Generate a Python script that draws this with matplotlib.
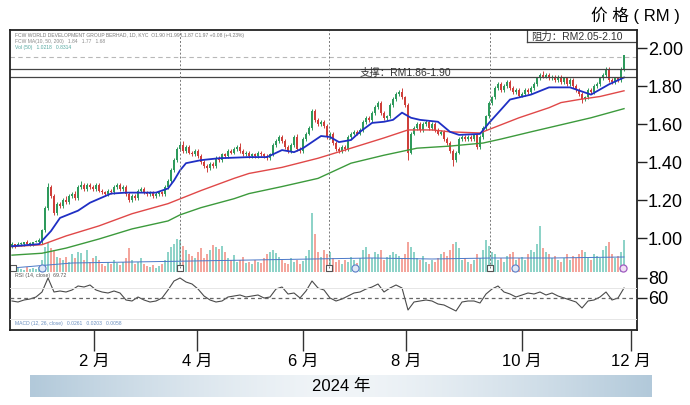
import numpy as np
import matplotlib.pyplot as plt
from matplotlib.colors import LinearSegmentedColormap

plt.rcParams['font.family'] = ['Liberation Sans', 'Noto Sans CJK SC', 'DejaVu Sans']

# daily candles (index 0 = first session shown)
opens = [0.96, 0.97, 0.96, 0.97, 0.97, 0.98, 0.97, 0.97, 0.98, 0.98,
         0.98, 1.04, 1.16, 1.27, 1.22, 1.13, 1.18, 1.17, 1.20, 1.19,
         1.22, 1.23, 1.21, 1.27, 1.28, 1.26, 1.28, 1.27, 1.26, 1.28,
         1.25, 1.24, 1.23, 1.25, 1.24, 1.27, 1.28, 1.26, 1.27, 1.23,
         1.20, 1.22, 1.21, 1.25, 1.26, 1.24, 1.23, 1.24, 1.22, 1.23,
         1.24, 1.23, 1.27, 1.30, 1.36, 1.41, 1.47, 1.49, 1.46, 1.48,
         1.45, 1.44, 1.46, 1.43, 1.40, 1.38, 1.37, 1.39, 1.38, 1.42,
         1.41, 1.44, 1.43, 1.46, 1.45, 1.47, 1.48, 1.46, 1.44, 1.45,
         1.43, 1.44, 1.43, 1.45, 1.44, 1.43, 1.42, 1.44, 1.49, 1.51,
         1.53, 1.51, 1.48, 1.46, 1.49, 1.53, 1.47, 1.46, 1.52, 1.55,
         1.58, 1.67, 1.62, 1.60, 1.61, 1.59, 1.53, 1.55, 1.50, 1.47,
         1.46, 1.48, 1.47, 1.53, 1.55, 1.56, 1.55, 1.57, 1.61, 1.63,
         1.62, 1.66, 1.69, 1.71, 1.66, 1.63, 1.64, 1.70, 1.73, 1.76,
         1.77, 1.74, 1.70, 1.45, 1.55, 1.58, 1.60, 1.57, 1.60, 1.61,
         1.58, 1.60, 1.57, 1.55, 1.56, 1.52, 1.50, 1.46, 1.41, 1.45,
         1.52, 1.53, 1.52, 1.53, 1.52, 1.54, 1.48, 1.53, 1.58, 1.64,
         1.71, 1.74, 1.79, 1.81, 1.78, 1.80, 1.82, 1.79, 1.77, 1.78,
         1.75, 1.76, 1.78, 1.77, 1.79, 1.81, 1.84, 1.86, 1.85, 1.86,
         1.84, 1.85, 1.83, 1.85, 1.82, 1.84, 1.81, 1.83, 1.80, 1.78,
         1.76, 1.73, 1.74, 1.78, 1.77, 1.80, 1.81, 1.84, 1.86, 1.89,
         1.83, 1.82, 1.84, 1.83, 1.89]
closes = [0.97, 0.96, 0.97, 0.97, 0.98, 0.97, 0.97, 0.98, 0.98, 0.99,
          1.04, 1.16, 1.27, 1.22, 1.13, 1.18, 1.17, 1.20, 1.19, 1.22,
          1.23, 1.21, 1.27, 1.28, 1.26, 1.28, 1.27, 1.26, 1.28, 1.25,
          1.24, 1.23, 1.25, 1.24, 1.27, 1.28, 1.26, 1.27, 1.23, 1.20,
          1.22, 1.21, 1.25, 1.26, 1.24, 1.23, 1.24, 1.22, 1.23, 1.24,
          1.23, 1.27, 1.30, 1.36, 1.41, 1.47, 1.49, 1.46, 1.48, 1.45,
          1.44, 1.46, 1.43, 1.40, 1.38, 1.37, 1.39, 1.38, 1.42, 1.41,
          1.44, 1.43, 1.46, 1.45, 1.47, 1.48, 1.46, 1.44, 1.45, 1.43,
          1.44, 1.43, 1.45, 1.44, 1.43, 1.42, 1.44, 1.49, 1.51, 1.53,
          1.51, 1.48, 1.46, 1.49, 1.53, 1.47, 1.46, 1.52, 1.55, 1.58,
          1.67, 1.62, 1.60, 1.61, 1.59, 1.53, 1.55, 1.50, 1.47, 1.46,
          1.48, 1.47, 1.53, 1.55, 1.56, 1.55, 1.57, 1.61, 1.63, 1.62,
          1.66, 1.69, 1.71, 1.66, 1.63, 1.64, 1.70, 1.73, 1.76, 1.77,
          1.74, 1.70, 1.45, 1.55, 1.58, 1.60, 1.57, 1.60, 1.61, 1.58,
          1.60, 1.57, 1.55, 1.56, 1.52, 1.50, 1.46, 1.41, 1.45, 1.52,
          1.53, 1.52, 1.53, 1.52, 1.54, 1.48, 1.53, 1.58, 1.64, 1.71,
          1.74, 1.79, 1.81, 1.78, 1.80, 1.82, 1.79, 1.77, 1.78, 1.75,
          1.76, 1.78, 1.77, 1.79, 1.81, 1.84, 1.86, 1.85, 1.86, 1.84,
          1.85, 1.83, 1.85, 1.82, 1.84, 1.81, 1.83, 1.80, 1.78, 1.76,
          1.73, 1.74, 1.78, 1.77, 1.80, 1.81, 1.84, 1.86, 1.89, 1.83,
          1.82, 1.84, 1.83, 1.89, 1.965]
# wick lengths in sen
wick_up = [1, 0, 1, 1, 0, 1, 1, 0, 1, 1,
           1, 1, 2, 1, 1, 1, 1, 1, 2, 1,
           1, 2, 1, 2, 1, 1, 1, 1, 1, 1,
           1, 1, 1, 1, 1, 1, 1, 1, 1, 1,
           1, 1, 1, 1, 1, 1, 1, 1, 1, 1,
           1, 1, 1, 1, 1, 1, 2, 2, 1, 1,
           1, 1, 1, 1, 1, 1, 1, 1, 1, 1,
           1, 1, 1, 1, 1, 1, 2, 1, 1, 1,
           1, 1, 1, 1, 1, 1, 1, 1, 1, 1,
           1, 1, 1, 1, 1, 2, 1, 1, 1, 1,
           1, 1, 1, 1, 1, 1, 1, 1, 1, 1,
           1, 1, 1, 1, 1, 1, 1, 1, 1, 1,
           1, 1, 1, 1, 1, 1, 1, 1, 1, 1,
           2, 1, 1, 1, 1, 1, 1, 1, 1, 1,
           1, 1, 1, 1, 1, 1, 1, 1, 1, 1,
           1, 1, 1, 1, 1, 1, 1, 1, 1, 1,
           1, 1, 1, 1, 1, 1, 1, 1, 1, 1,
           1, 1, 1, 1, 1, 1, 1, 2, 1, 1,
           1, 1, 1, 1, 1, 1, 1, 1, 1, 1,
           1, 1, 1, 1, 1, 1, 1, 1, 1, 1,
           1, 1, 1, 1, 0]
wick_dn = [1, 1, 0, 1, 1, 0, 1, 1, 0, 1,
           1, 1, 1, 1, 1, 1, 1, 1, 1, 1,
           1, 1, 1, 1, 1, 1, 1, 1, 1, 1,
           1, 1, 1, 1, 1, 1, 1, 1, 1, 1,
           1, 1, 1, 1, 1, 1, 1, 1, 1, 1,
           1, 1, 1, 1, 1, 1, 1, 1, 1, 1,
           1, 1, 1, 1, 1, 2, 1, 1, 1, 1,
           1, 1, 1, 1, 1, 1, 1, 1, 1, 1,
           1, 1, 1, 1, 1, 1, 1, 1, 1, 1,
           1, 1, 1, 1, 1, 1, 1, 1, 1, 1,
           1, 1, 1, 1, 1, 1, 1, 1, 1, 1,
           1, 1, 1, 1, 1, 1, 1, 1, 1, 1,
           1, 1, 1, 1, 1, 1, 1, 1, 1, 1,
           1, 1, 4, 1, 1, 1, 1, 1, 1, 1,
           1, 1, 1, 1, 1, 1, 1, 3, 1, 1,
           1, 1, 1, 1, 1, 1, 1, 1, 1, 1,
           1, 1, 1, 1, 1, 1, 1, 1, 1, 1,
           1, 1, 1, 1, 1, 1, 1, 1, 1, 1,
           1, 1, 1, 1, 1, 1, 1, 1, 1, 1,
           2, 1, 1, 1, 1, 1, 1, 1, 1, 1,
           1, 1, 1, 1, 1]
volume = [3, 2, 4, 3, 2, 5, 3, 4, 3, 5,
          12, 25, 29, 24, 22, 15, 14, 12, 15, 10,
          18, 14, 20, 19, 12, 22, 10, 14, 16, 12,
          8, 6, 10, 8, 12, 9, 7, 10, 14, 24,
          12, 8, 10, 14, 8, 6, 5, 7, 4, 6,
          8, 12, 20, 25, 28, 33, 32, 26, 22, 18,
          16, 14, 20, 24, 14, 18, 22, 27, 25, 23,
          26, 20, 14, 12, 17, 10, 12, 15, 9, 10,
          8, 12, 10, 9, 14, 18, 20, 22, 19, 15,
          12, 9, 8, 14, 10, 12, 8, 11, 16, 22,
          59, 38, 20, 15, 22, 18, 20, 14, 10, 12,
          8, 12, 10, 15, 12, 9, 14, 22, 25, 18,
          14, 20, 18, 22, 12, 15, 17, 20, 18, 16,
          14, 18, 30, 25, 20, 14, 12, 16, 10, 8,
          12, 10, 14, 18, 20, 16, 22, 28, 30, 24,
          12, 14, 10, 8, 12, 18, 14, 22, 32, 26,
          20, 18, 12, 14, 10, 16, 18, 20, 12, 14,
          15, 12, 18, 22, 20, 28, 46, 24, 20, 18,
          14, 16, 12, 10, 14, 18, 12, 16, 14, 18,
          22, 20, 14, 12, 18, 16, 14, 22, 26, 30,
          18, 14, 16, 20, 32]

vol_ma_x = [0, 20, 40, 60, 80, 100, 120, 140, 160, 180, 204]
vol_ma = [4, 9, 10, 11, 12, 13, 14, 13, 14, 14, 15]

# moving averages (blue / red / green)
blue_x = [0, 9, 13, 16, 22, 26, 33, 38, 43, 48, 52, 54, 56, 58, 63, 69, 79, 85, 90, 94, 97,
          103, 106, 109, 113, 116, 120, 124, 127, 130, 133, 136, 142, 146, 149, 156, 159,
          163, 166, 173, 179, 186, 193, 199, 204]
blue_ma = [0.957, 0.968, 1.037, 1.106, 1.144, 1.186, 1.234, 1.239, 1.239, 1.239, 1.261,
           1.303, 1.356, 1.394, 1.410, 1.420, 1.426, 1.426, 1.463, 1.452, 1.473, 1.537,
           1.532, 1.505, 1.516, 1.559, 1.606, 1.612, 1.622, 1.660, 1.633, 1.622, 1.612,
           1.559, 1.543, 1.548, 1.606, 1.676, 1.729, 1.755, 1.793, 1.793, 1.755, 1.809, 1.845]
red_x = [0, 10, 18, 29, 40, 52, 63, 74, 79, 90, 102, 113, 124, 132, 140, 146, 156, 163,
         169, 179, 183, 189, 196, 204]
red_ma = [0.955, 0.965, 1.011, 1.064, 1.128, 1.181, 1.250, 1.314, 1.340, 1.372, 1.420,
          1.473, 1.527, 1.569, 1.569, 1.559, 1.553, 1.596, 1.633, 1.686, 1.713, 1.729,
          1.745, 1.775]
green_x = [0, 10, 18, 29, 40, 52, 56, 63, 74, 79, 90, 102, 113, 124, 135, 146, 157, 163,
           173, 183, 193, 204]
green_ma = [0.910, 0.920, 0.947, 0.995, 1.048, 1.090, 1.122, 1.160, 1.207, 1.234, 1.271,
            1.314, 1.394, 1.436, 1.473, 1.484, 1.500, 1.521, 1.559, 1.596, 1.633, 1.681]

# RSI(14), every second session
rsi_x = list(range(0, 205, 2))
rsi = [57, 56, 58, 59, 61, 66, 80, 66, 67, 66, 68, 72, 71, 73, 68, 66, 65, 67, 65, 58,
       57, 61, 58, 56, 57, 60, 68, 77, 80, 76, 74, 69, 62, 58, 56, 57, 61, 62, 63, 61,
       62, 63, 60, 61, 69, 71, 64, 65, 60, 67, 77, 70, 68, 60, 57, 59, 62, 65, 66, 69,
       71, 74, 66, 70, 73, 70, 48, 56, 57, 58, 57, 54, 53, 50, 47, 56, 57, 57, 55, 64,
       69, 72, 66, 64, 61, 63, 65, 64, 66, 63, 65, 62, 60, 58, 56, 50, 57, 58, 61, 66,
       58, 60, 70]

month_pos = [27.3, 61.7, 97.0, 131.3, 170.0, 206.3]
month_labels = ['2 月', '4 月', '6 月', '8 月', '10 月', '12 月']
price_ticks = [1.00, 1.20, 1.40, 1.60, 1.80, 2.00]
event_box_x = [0.3, 56.0, 105.7, 159.3]
event_dot_x = [10.0, 114.3, 167.7]

W, H = 690, 405
fig = plt.figure(figsize=(W / 100, H / 100), dpi=100)
box = [10 / W, 1 - 330 / H, 627 / W, 300 / H]
ax = fig.add_axes(box)
axv = ax.twinx()
axr = ax.twinx()
ax.set_zorder(1)
axv.set_zorder(0)
axr.set_zorder(2)
ax.patch.set_visible(False)

ax.set_xlim(-0.67, 208.33)
ax.set_ylim(0.516, 2.095)
axv.set_ylim(-58, 242)
axr.set_ylim(28, 328)

# volume
o = np.array(opens)
c = np.array(closes)
x = np.arange(len(o))
up = c >= o
axv.bar(x, volume, width=0.85, color=np.where(up, '#8ed3c8', '#f4a59c'), lw=0)
axv.plot(vol_ma_x, vol_ma, color='#4a78c8', lw=0.7)
axv.set_yticks([])
for s in axv.spines.values():
    s.set_visible(False)
axv.scatter(event_box_x, [4] * len(event_box_x), marker='s', s=22, facecolor='white',
            edgecolor='#555555', lw=0.8, zorder=5)
axv.scatter(event_dot_x, [4] * len(event_dot_x), marker='o', s=26, facecolor='#dfe8f6',
            edgecolor='#5a7ec8', lw=0.8, zorder=5)
axv.scatter([203.7], [4], marker='o', s=26, facecolor='#f0dff4', edgecolor='#a05ac0',
            lw=0.9, zorder=5)

# candles
hi = np.maximum(o, c) + np.array(wick_up) / 100
lo = np.minimum(o, c) - np.array(wick_dn) / 100
col = np.where(up, '#2e9a5c', '#cf3f3a')
ax.vlines(x, lo, hi, colors=col, lw=0.7)
ax.bar(x, np.maximum(np.abs(c - o), 0.004), bottom=np.minimum(o, c), width=0.75,
       color=col, lw=0)

ax.plot(green_x, green_ma, color='#3c9a3c', lw=1.0)
ax.plot(red_x, red_ma, color='#e04848', lw=1.0)
ax.plot(blue_x, blue_ma, color='#1f2fc4', lw=1.3)

# reference lines
ax.axhline(1.953, color='#b8b8b8', lw=0.8, ls=(0, (4, 3)))
ax.axhline(1.892, color='#444444', lw=0.9)
ax.axhline(1.850, color='#444444', lw=0.9)
ax.plot([171.5, 208.33], [2.032, 2.032], color='#444444', lw=0.9)
ax.plot([171.5, 171.5], [2.032, 2.095], color='#444444', lw=0.9)
ax.vlines([56.0, 105.7, 159.3], 0.84, 2.095, colors='#777777', lw=0.7, linestyles=(0, (2, 2)))
ax.text(173, 2.060, '阻力：RM2.05-2.10', fontsize=7.5, color='#333333', va='center')
ax.text(116, 1.871, '支撑：RM1.86-1.90', fontsize=7.5, color='#333333', va='center')

ax.text(0.008, (330 - 35) / 300, 'FCW WORLD DEVELOPMENT GROUP BERHAD, 1D, KYC  O1.90 H1.99 L1.87 C1.97 +0.08 (+4.23%)',
        transform=ax.transAxes, fontsize=3.6, color='#777777', va='center')
ax.text(0.008, (330 - 41) / 300, 'FCW MA(10, 50, 200)   1.84   1.77   1.68',
        transform=ax.transAxes, fontsize=3.6, color='#8a8a8a', va='center')
ax.text(0.008, (330 - 47) / 300, 'Vol (50)   1.0218   0.8314',
        transform=ax.transAxes, fontsize=3.6, color='#55a8a0', va='center')

# RSI
axr.plot(rsi_x, rsi, color='#4a4a4a', lw=0.8)
axr.axhline(60, color='#666666', lw=0.9, ls=(0, (3, 2.5)))
axr.axhline(70, color='#e6e6e6', lw=0.7)
axr.axhline(39, color='#e6e6e6', lw=0.7)
axr.text(1, 82.5, 'RSI (14, close)  69.72', fontsize=3.8, color='#555555', va='center')
axr.text(1, 35, 'MACD (12, 26, close)   0.0261   0.0203   0.0058', fontsize=3.6,
         color='#6a8fc0', va='center')
axr.set_yticks([60, 80])
axr.set_yticklabels(['60', '80'])
axr.tick_params(axis='y', length=7, width=1, labelsize=13, pad=1, color='#222222')
for s in axr.spines.values():
    s.set_visible(False)

# price axis
ax.yaxis.tick_right()
ax.set_yticks(price_ticks)
ax.set_yticklabels(['%.2f' % t for t in price_ticks])
ax.tick_params(axis='y', length=7, width=1, labelsize=13, pad=1, color='#222222')
ax.set_xticks(month_pos)
ax.set_xticklabels(month_labels)
ax.tick_params(axis='x', length=15, width=1, labelsize=12, pad=2, color='#333333')
for s in ax.spines.values():
    s.set_color('#222222')
    s.set_linewidth(1.3)

fig.text(680 / W, 1 - 15 / H, '价 格 ( RM )', fontsize=12, ha='right', va='center')

# year band
axb = fig.add_axes([30 / W, 1 - 397 / H, 622 / W, 22 / H])
t = np.linspace(-1, 1, 400)
grad = 1 - np.abs(t) ** 1.4
cmap = LinearSegmentedColormap.from_list('band', ['#b2c9da', '#f1f5f8'])
axb.imshow(grad[None, :], aspect='auto', cmap=cmap, extent=(0, 1, 0, 1))
axb.set_axis_off()
axb.text(0.5, 0.5, '2024 年', fontsize=12, ha='center', va='center')

fig.savefig('out.png', dpi=100)
